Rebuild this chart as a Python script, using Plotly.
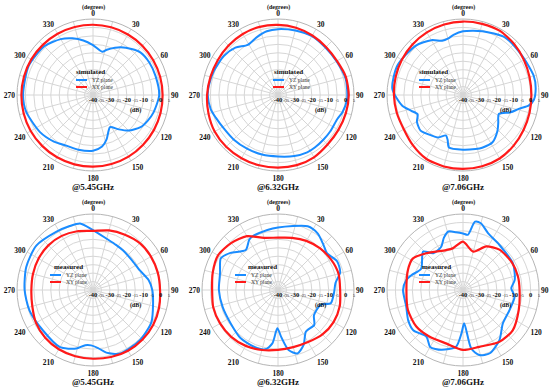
import plotly.graph_objects as go

W, H = 550, 388

# ---------------- data (dB vs angle in degrees) ----------------
freq_labels = ["@5.45GHz", "@6.32GHz", "@7.06GHz", "@5.45GHz", "@6.32GHz", "@7.06GHz"]
kind_labels = ["simulated", "simulated", "simulated", "measured", "measured", "measured"]
series_names = ["YZ plane", "XY plane"]

red_theta = list(range(0, 360, 15))

# simulated 5.45 GHz
sim545_yz_theta = [0, 12, 17, 25, 30, 40, 48, 60, 73, 90, 106, 115, 124, 135, 143, 152, 158, 163, 170, 180,
                   195, 207, 220, 235, 256, 270, 294, 315, 330, 340, 350]
sim545_yz_db = [-10.5, -13.8, -12, -9.2, -7.4, -4.5, -2.3, -1.5, -1.3, -0.8, -2.7, -4.2, -6, -10.2, -14.5, -18.5,
                -16, -12.5, -9, -7, -6.5, -6.2, -4, -1.7, 0.8, 1.4, 1.8, 0.8, -1.8, -4.3, -7.2]
sim545_xy_db = [1.6, 1.5, 1.4, 1.3, 1.2, 1.2, 1.2, 1.4, 1.6, 1.8, 2.1, 2.3, 2.4, 2.5, 2.6, 2.6, 2.6, 2.5, 2.4,
                2.3, 2.2, 2.0, 1.9, 1.7]

# simulated 6.32 GHz
sim632_yz_theta = [0, 15, 30, 45, 60, 77, 93, 105, 112, 125, 134, 145, 153, 165, 180, 195, 210, 225, 238, 250,
                   258, 270, 278, 290, 306, 318, 329, 340, 350]
sim632_yz_db = [-1, -0.5, 0.2, -0.3, 0, 1.2, 1, -0.5, -2.1, -2.3, -2.3, -2.0, -1.9, -2.6, -3.6, -3.5, -3.3, -2.8,
                -2.3, -0.8, 0.7, 1.6, 1.3, 0.6, -0.5, -2.3, -5.3, -3.5, -1.7]
sim632_xy_db = [1.5, 1.2, 0.7, 0.2, 0.3, 1.6, 1.9, 1.6, 1.3, 1.5, 2.6, 3.0, 3.0, 3.1, 3.2, 3.4, 3.3, 2.6, 2.0,
                1.4, 1.2, 1.4, 1.7, 1.8]

# simulated 7.06 GHz
sim706_yz_theta = [0, 17, 36, 56, 75, 85, 94, 99, 104, 110, 118, 128, 136, 148, 160, 167, 180, 195, 199, 203,
                   210, 217, 230, 240, 247, 253, 260, 275, 294, 316, 330, 339, 345, 351]
sim706_yz_db = [-2.3, -0.5, 2.2, 2, 3.4, 3.2, 2, -0.5, -6, -10, -16, -13.5, -10.6, -7, -6.8, -7.2, -7.6, -7.8,
                -12, -14, -11, -9.8, -7.2, -8.5, -10.8, -8, -3.5, 2, 2.6, 0.5, -2.5, -5.6, -5.5, -4]
sim706_xy_db = [3.5, 3.6, 3.8, 2.8, 1.6, 0.8, 0.5, 0.8, 1.4, 2.4, 3.4, 3.7, 3.8, 3.8, 3.6, 2.0, 0.5, 0.6, 0.9,
                1.3, 1.8, 2.3, 2.8, 3.2]

# measured 5.45 GHz
meas545_yz_theta = [0, 15, 27, 37, 52, 67, 80, 90, 103, 119, 137, 157, 168, 175, 182, 188, 196, 210, 231, 252,
                    270, 289, 308, 328, 340, 349]
meas545_yz_db = [-4.5, -8.6, -10, -10.6, -11, -10, -6.5, -4.9, -3.5, -0.5, 0.7, 0.9, -2.1, -5.5, -7.2, -7, -3.9,
                 -0.9, -1.9, -0.5, 0.5, 1.8, 2.6, 0.7, 0.3, 0.1]
meas545_xy_db = [-5, -3.5, -2.2, -0.8, -0.4, -0.3, -0.3, 0.5, 1.2, 1.5, 1.5, 1.1, 0.7, 0.6, 0.5, 0, -1, -2.8,
                 -3.5, -3.2, -2.8, -2.6, -3, -4]

# measured 6.32 GHz
meas632_yz_theta = [0, 25, 35, 45, 53, 64, 74, 83, 93, 104, 109, 125, 134, 146, 155, 163, 170, 176, 181, 186,
                    192, 203, 218, 235, 253, 270, 286, 299, 308, 321, 330, 334, 350]
meas632_yz_db = [-3, 1.6, 0.9, -2, -3.7, -1.1, -1.7, -5.7, -6.8, -7.8, -13.2, -14, -10.2, -10.4, -4.1, -0.7,
                 -3.9, -12, -17.3, -8.2, -4.1, -3.5, -3.9, -5.7, -5.7, -5, -4.3, -1.3, -4.3, -9.6, -5.8, -4.9, -3.9]
meas632_xy_db = [-9, -8, -6.4, -5, -3.8, -2.9, -3.2, -2.2, -2.0, -2.8, -4.4, -5, -4.5, -3.2, -1.8, -0.8, -0.4,
                 -0.3, -1.0, 0, 1.0, -0.7, -3.2, -8]

# measured 7.06 GHz
meas706_yz_theta = [0, 5, 10, 15, 24, 39, 62, 79, 88, 97, 113, 130, 144, 157, 166, 172, 178, 182, 187, 200, 210,
                    218, 231, 241, 254, 270, 280, 286, 297, 314, 321, 333, 340, 346, 353]
meas706_yz_db = [-6.5, -7.2, 1.1, 0.9, -3.3, -5.7, -6.5, -8.8, -11.4, -9.2, -10, -9.2, -3.3, 0.7, -0.3, -5, -20.3,
                 -14.3, -6.2, -2.3, -1.1, -4.9, -2.1, -2.9, -5, -4.5, -5.9, -8.2, -12.2, -7.2, -12, -11.4, -7,
                 -4.3, -5.5]
meas706_xy_theta = [0, 15, 28, 42, 60, 76, 90, 110, 129, 145, 164, 180, 197, 216, 232, 250, 270, 290, 302, 315,
                    337, 346]
meas706_xy_db = [-11.4, -16.5, -10.8, -7.8, -6.8, -6.5, -6.5, -4.9, -2.1, -2.5, -5, -4.5, -6.8, -6, -4.9, -5.3,
                 -6.5, -5.3, -4.9, -9.2, -14.3, -14.6]

radial_ticks = list(range(-40, 6, 5))
angular_ticks = list(range(0, 360, 15))

panels = [
    (sim545_yz_theta, sim545_yz_db, red_theta, sim545_xy_db),
    (sim632_yz_theta, sim632_yz_db, red_theta, sim632_xy_db),
    (sim706_yz_theta, sim706_yz_db, red_theta, sim706_xy_db),
    (meas545_yz_theta, meas545_yz_db, red_theta, meas545_xy_db),
    (meas632_yz_theta, meas632_yz_db, red_theta, meas632_xy_db),
    (meas706_yz_theta, meas706_yz_db, meas706_xy_theta, meas706_xy_db),
]

# ---------------- layout geometry (pixels) ----------------
centers = [(93, 95), (278, 95), (463, 95), (93, 290), (278, 290), (463, 290)]
R = 76
# legend: (line start x, title center x) in pixels
legend_pos = [(76, 90), (273, 288), (419, 433), (50, 68), (235, 262), (419, 436)]

BLUE = "#1a8cff"
RED = "#ff1a1a"
FONT = "Liberation Serif"
GRID = "#d6d6d6"


def px(x):
    return x / W


def py(y):
    return 1 - y / H


def close(v):
    return list(v) + [v[0]]


fig = go.Figure()
annotations = []
shapes = []

rad_text = []
for v in radial_ticks:
    if v % 10 == 0:
        rad_text.append(f"<b>{v}</b>")
    else:
        rad_text.append(f"<span style='font-size:4px'>{v}</span>")
ang_text = [f"<b>{a}</b>" if a % 30 == 0 else "" for a in angular_ticks]

for i, (yt, yv, xt, xv) in enumerate(panels):
    name = "polar" if i == 0 else f"polar{i + 1}"
    fig.add_trace(go.Scatterpolar(theta=close(yt), r=close(yv), mode="lines", subplot=name,
                                  line=dict(color=BLUE, width=2, shape="spline", smoothing=0.7),
                                  name=series_names[0], showlegend=False))
    fig.add_trace(go.Scatterpolar(theta=close(xt), r=close(xv), mode="lines", subplot=name,
                                  line=dict(color=RED, width=2.2, shape="spline", smoothing=0.7),
                                  name=series_names[1], showlegend=False))
    cx, cy = centers[i]
    fig.update_layout(**{name: dict(
        domain=dict(x=[px(cx - R), px(cx + R)], y=[py(cy + R), py(cy - R)]),
        bgcolor="white",
        angularaxis=dict(rotation=90, direction="clockwise", tickmode="array",
                         tickvals=angular_ticks, ticktext=ang_text, ticks="",
                         tickfont=dict(family=FONT, size=7.5, color="#111"),
                         showgrid=True, gridcolor=GRID, gridwidth=0.7,
                         showline=True, linecolor="#b5b5b5", linewidth=1),
        radialaxis=dict(range=[-40, 5], tickmode="array", tickvals=radial_ticks, ticktext=rad_text,
                        angle=0, side="clockwise", showline=False, ticks="", tickangle=0,
                        tickfont=dict(family=FONT, size=6.5, color="#111"),
                        showgrid=True, gridcolor=GRID, gridwidth=0.7),
    )})
    # texts
    annotations.append(dict(x=px(cx), y=py(cy - 88), text="<b>(degrees)</b>", showarrow=False,
                            font=dict(family=FONT, size=6, color="#111"), xanchor="center", yanchor="middle"))
    annotations.append(dict(x=px(cx), y=py(cy + 92), text=f"<b>{freq_labels[i]}</b>", showarrow=False,
                            font=dict(family=FONT, size=9, color="#111"), xanchor="center", yanchor="middle"))
    annotations.append(dict(x=px(cx + 42), y=py(cy + 15), text="<b>(dB)</b>", showarrow=False,
                            font=dict(family=FONT, size=6, color="#111"), xanchor="center", yanchor="middle"))
    # legend
    lx, tx = legend_pos[i]
    ty = cy - 23
    annotations.append(dict(x=px(tx), y=py(ty), text=f"<b>{kind_labels[i]}</b>", showarrow=False,
                            font=dict(family=FONT, size=7, color="#111"), xanchor="center", yanchor="middle"))
    for k, (col, dy) in enumerate([(BLUE, -15), (RED, -8)]):
        shapes.append(dict(type="line", xref="paper", yref="paper", x0=px(lx), x1=px(lx + 11),
                           y0=py(cy + dy), y1=py(cy + dy), line=dict(color=col, width=2)))
        annotations.append(dict(x=px(lx + 14), y=py(cy + dy), text=series_names[k], showarrow=False,
                                font=dict(family=FONT, size=5.5, color="#333"), xanchor="left",
                                yanchor="middle"))

fig.update_layout(width=W, height=H, margin=dict(l=0, r=0, t=0, b=0), paper_bgcolor="white",
                  annotations=annotations, shapes=shapes, showlegend=False)

fig.write_html("out.html", config={"displayModeBar": False},
               post_script="document.body.style.margin='0';")
